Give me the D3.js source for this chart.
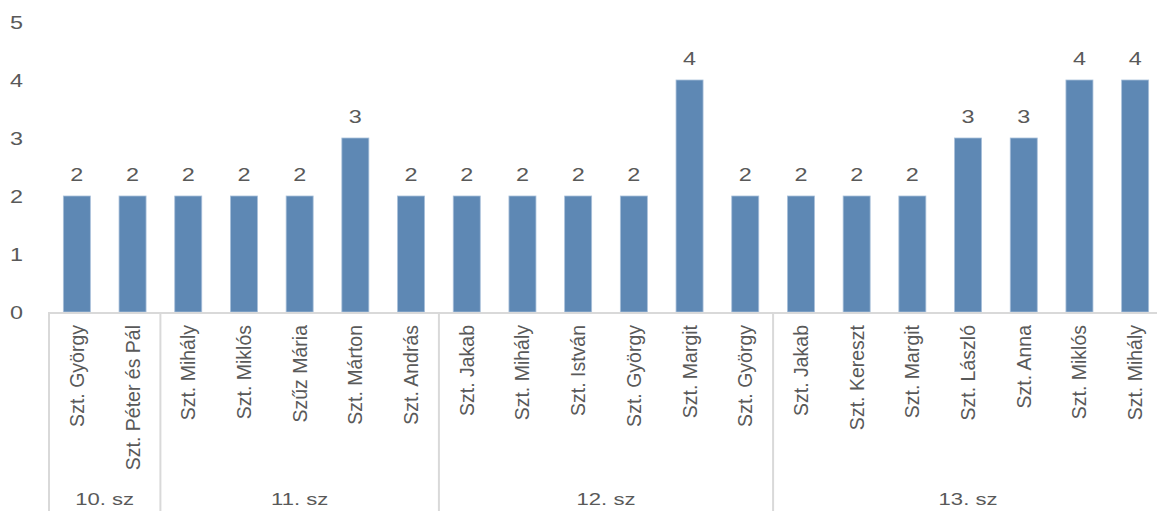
<!DOCTYPE html>
<html>
<head>
<meta charset="utf-8">
<script src="https://cdn.jsdelivr.net/npm/d3@7"></script>
<style>
  body { margin: 0; background: #fff; }
  svg { display: block; }
  text { font-family: 'Liberation Sans', Arial, sans-serif; fill: #595959; }
</style>
</head>
<body>
<svg width="1157" height="511"></svg>
<script>
// Data:
const saints = [
  'Szt. György', 'Szt. Péter és Pál',
  'Szt. Mihály', 'Szt. Miklós', 'Szűz Mária', 'Szt. Márton', 'Szt. András',
  'Szt. Jakab', 'Szt. Mihály', 'Szt. István', 'Szt. György', 'Szt. Margit', 'Szt. György',
  'Szt. Jakab', 'Szt. Kereszt', 'Szt. Margit', 'Szt. László', 'Szt. Anna', 'Szt. Miklós', 'Szt. Mihály'
]
const centuries = [
  '10. sz', '10. sz',
  '11. sz', '11. sz', '11. sz', '11. sz', '11. sz',
  '12. sz', '12. sz', '12. sz', '12. sz', '12. sz', '12. sz',
  '13. sz', '13. sz', '13. sz', '13. sz', '13. sz', '13. sz', '13. sz'
]
const counts = [2, 2, 2, 2, 2, 3, 2, 2, 2, 2, 2, 4, 2, 2, 2, 2, 3, 3, 4, 4]
const yTicks = [0, 1, 2, 3, 4, 5]

const drawChart = () => {
  const barColor = '#5e88b4',
    barEdge = '#a9c0da',
    lineColor = '#d9d9d9'

  const xPixelMin = 49
  const xPixelMax = 1163
  const yPixelMin = 22
  const yPixelMax = 312
  const stretch = 1.3 // the reference text is drawn wide

  const svg = d3.select('svg')

  const idx = d3.range(counts.length)

  // Scales:
  const xScale = d3.scaleBand().domain(idx).range([xPixelMin, xPixelMax]).padding(0)
  const yScale = d3.scaleLinear().domain([0, 5]).range([yPixelMax, yPixelMin])
  const barW = xScale.bandwidth() * 0.485

  // Y axis (labels only):
  const yAxis = d3.axisLeft(yScale)
    .tickValues(yTicks)
    .tickFormat(d3.format('d'))
    .tickSize(0)
    .tickPadding(0)
  const yAxisG = svg.append('g')
    .attr('id', 'yAxisG')
    .attr('transform', 'translate(23, 0)')
    .call(yAxis)
  yAxisG.select('.domain').remove()
  yAxisG.selectAll('text')
    .attr('x', 0)
    .attr('dy', '0.36em')
    .attr('transform', `scale(${stretch},1)`)
    .style('font-size', '18px')
    .style('font-family', "'Liberation Sans', Arial, sans-serif")
    .style('fill', '#595959')
    .attr('fill', null)

  // Bars:
  svg.selectAll('rect.bar')
    .data(idx)
    .enter()
    .append('rect')
    .attr('class', 'bar')
    .attr('x', (i) => xScale(i) + (xScale.bandwidth() - barW) / 2)
    .attr('y', (i) => yScale(counts[i]))
    .attr('width', barW)
    .attr('height', (i) => yScale(0) - yScale(counts[i]))
    .style('fill', barColor)
    .style('stroke', barEdge)
    .style('stroke-width', 0.8)

  // Value labels:
  svg.selectAll('text.value')
    .data(idx)
    .enter()
    .append('text')
    .attr('class', 'value')
    .attr('transform', (i) => `translate(${xScale(i) + xScale.bandwidth() / 2}, ${yScale(counts[i]) - 15}) scale(${stretch},1)`)
    .attr('text-anchor', 'middle')
    .style('font-size', '18px')
    .text((i) => counts[i])

  // Category axis line:
  svg.append('line')
    .attr('x1', xPixelMin)
    .attr('x2', xPixelMax)
    .attr('y1', yPixelMax + 1)
    .attr('y2', yPixelMax + 1)
    .style('stroke', lineColor)
    .style('stroke-width', 2)

  // Saint labels, rotated:
  svg.selectAll('text.saint')
    .data(idx)
    .enter()
    .append('text')
    .attr('class', 'saint')
    .attr('transform', (i) => `translate(${xScale(i) + xScale.bandwidth() / 2 + 7}, ${yPixelMax + 13}) rotate(-90)`)
    .attr('text-anchor', 'end')
    .style('font-size', '19.5px')
    .text((i) => saints[i])

  // Century groups:
  const groups = Array.from(d3.group(idx, (i) => centuries[i]), ([name, members]) => ({
    name,
    first: d3.min(members),
    last: d3.max(members)
  }))

  svg.selectAll('line.sep')
    .data(groups)
    .enter()
    .append('line')
    .attr('class', 'sep')
    .attr('x1', (g) => xScale(g.first))
    .attr('x2', (g) => xScale(g.first))
    .attr('y1', yPixelMax)
    .attr('y2', 511)
    .style('stroke', lineColor)
    .style('stroke-width', 2)

  svg.selectAll('text.century')
    .data(groups)
    .enter()
    .append('text')
    .attr('class', 'century')
    .attr('transform', (g) => {
      const mid = (xScale(g.first) + xScale(g.last) + xScale.bandwidth()) / 2
      return `translate(${mid}, 505) scale(${stretch},1)`
    })
    .attr('text-anchor', 'middle')
    .style('font-size', '17px')
    .text((g) => g.name)
}

drawChart()
</script>
</body>
</html>
